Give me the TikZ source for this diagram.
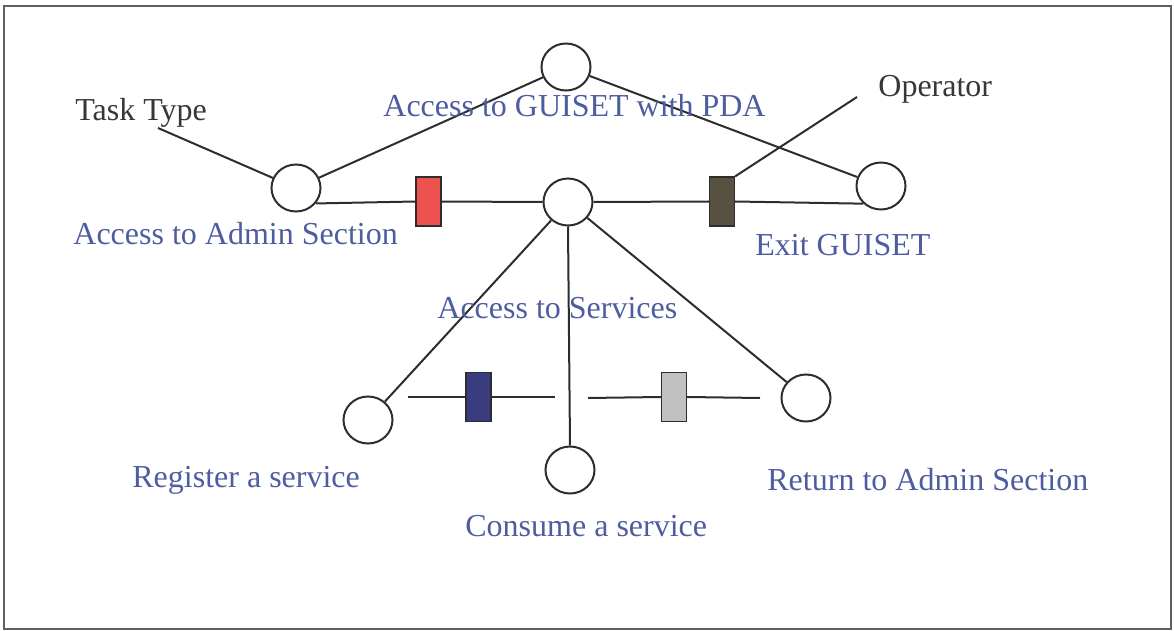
\documentclass[tikz,border=0pt]{standalone}
\usepackage{fontspec}
\setmainfont{Liberation Serif}
\usetikzlibrary{shapes.geometric}
\definecolor{labelblue}{RGB}{78,92,160}
\definecolor{labelgray}{RGB}{55,55,55}
\definecolor{linegray}{RGB}{45,45,45}
\definecolor{framegray}{RGB}{95,95,95}
\definecolor{barred}{RGB}{238,82,78}
\definecolor{barbrown}{RGB}{88,80,64}
\definecolor{barblue}{RGB}{58,60,128}
\definecolor{bargray}{RGB}{192,192,192}
\tikzset{
  place/.style={ellipse, draw=linegray, line width=1pt, fill=white,
    minimum width=24.5pt, minimum height=23.5pt, inner sep=0pt},
  bar/.style={rectangle, draw=linegray, line width=0.6pt,
    minimum width=12.5pt, minimum height=24.5pt, inner sep=0pt},
  arc/.style={draw=linegray, line width=1pt},
  lbl/.style={anchor=base west, inner sep=0pt, text=labelblue,
    font=\fontsize{16}{19}\selectfont},
  tag/.style={lbl, text=labelgray}
}
\begin{document}
\begin{tikzpicture}[x=0.5pt, y=-0.5pt]
\useasboundingbox (0,0) rectangle (1174,631);
\draw[framegray, line width=1.3pt] (4,6) rectangle (1171,629);

% places
\node[place] (pda)   at (566,67)  {};
\node[place] (admin) at (296,188) {};
\node[place] (serv)  at (568,202) {};
\node[place] (exit)  at (881,186) {};
\node[place] (reg)   at (368,420) {};
\node[place] (cons)  at (570,470) {};
\node[place] (ret)   at (806,398) {};

% transitions
\node[bar, fill=barred]   (t1) at (428.5,201.5) {};
\node[bar, fill=barbrown] (t2) at (722,201.5)   {};
\node[bar, fill=barblue]  (t3) at (478.5,397)   {};
\node[bar, fill=bargray]  (t4) at (674,397)     {};

% free ends of the bottom arcs and of the annotation leaders
\coordinate (tasktip) at (158,128);
\coordinate (optip)   at (857,97);
\coordinate (l3) at (408,397);
\coordinate (r3) at (555,397);
\coordinate (l4) at (588,398);
\coordinate (r4) at (760,398);

% arcs
\draw[arc] (pda) -- (admin);
\draw[arc] (pda) -- (exit);
\draw[arc] (tasktip) -- (admin);
\draw[arc] (optip) -- (t2.north east);
\draw[arc] (admin.-38) -- (t1.west);
\draw[arc] (t1.east) -- (serv.west);
\draw[arc] (serv.east) -- (t2.west);
\draw[arc] (t2.east) -- (exit.-135);
\draw[arc] (serv) -- (reg);
\draw[arc] (serv.south) -- (cons.north);
\draw[arc] (serv) -- (ret);
\draw[arc] (l3) -- (t3.west);
\draw[arc] (t3.east) -- (r3);
\draw[arc] (l4) -- (t4.west);
\draw[arc] (t4.east) -- (r4);

% labels
\node[tag] (tasktype) at (75,121)  {Task Type};
\node[tag] (operator) at (878,97)  {Operator};
\node[lbl] (lpda)   at (383,117) {Access to GUISET with PDA};
\node[lbl] (ladmin) at (73,244)  {Access to Admin Section};
\node[lbl] (lexit)  at (755,256) {Exit GUISET};
\node[lbl] (lserv)  at (437,318) {Access to Services};
\node[lbl] (lreg)   at (132,487) {Register a service};
\node[lbl] (lcons)  at (465,536) {Consume a service};
\node[lbl] (lret)   at (767,490) {Return to Admin Section};
\end{tikzpicture}
\end{document}
